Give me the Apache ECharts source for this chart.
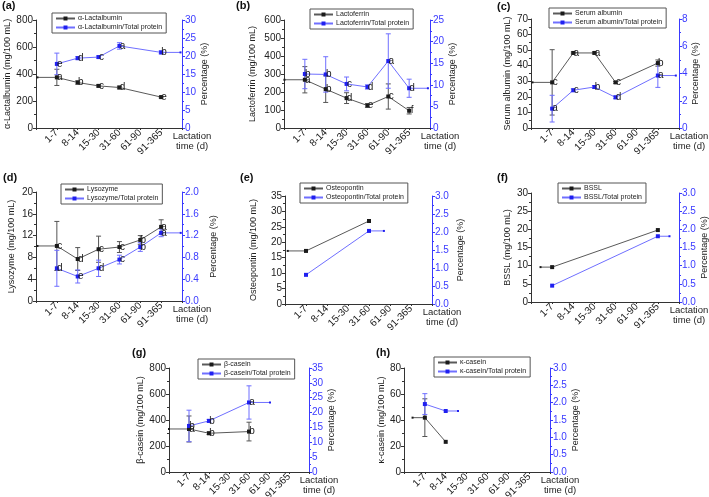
<!DOCTYPE html>
<html><head><meta charset="utf-8">
<script src="https://cdn.jsdelivr.net/npm/echarts@6/dist/echarts.min.js"></script>
<style>html,body{margin:0;padding:0;background:#fff}#c{width:709px;height:497px}</style>
</head><body><div id="c"></div>
<script>
const categories = ["1-7","8-14","15-30","31-60","61-90","91-365"];

// (a) alpha-lactalbumin
const aConc = [375, 337, 312, 300, null, 229];
const aConcErr = [60, 12, 8, 10, null, 6];
const aPct = [17.8, 19.4, 19.7, 22.8, null, 21.0];
const aPctErr = [3.0, 0.4, 0.3, 0.9, null, 0.4];
const aConcLetters = ["a","b","c","d",null,"e"];
const aPctLetters = ["e","d","c","a",null,"b"];
const aConcTicks = [0, 800, 200];
const aPctTicks = [0, 30, 5];
const aExt = [0.93, 0.93];

// (b) lactoferrin
const bConc = [268, 216, 166, 125, 175, 96];
const bConcErr = [73, 74, 30, 10, 70, 18];
const bPct = [12.5, 12.4, 10.2, 9.5, 15.5, 9.2];
const bPctErr = [3.4, 4.1, 1.6, 0.5, 6.3, 2.1];
const bConcLetters = ["a","b","d","e","c","f"];
const bPctLetters = ["b","b","c","d","a","d"];
const bConcTicks = [0, 600, 100];
const bPctTicks = [0, 25, 5];
const bExt = [0.98, 0.9];

// (c) serum albumin
const cConc = [29.3, 48.2, 48.2, 29.3, null, 41.7];
const cConcErr = [21, 0.6, 0.6, 0.6, null, 2];
const cPct = [1.42, 2.77, 3.01, 2.25, null, 3.85];
const cPctErr = [0.98, 0.1, 0.1, 0.1, null, 0.87];
const cConcLetters = ["c","a","a","c",null,"b"];
const cPctLetters = ["a","c","b","d",null,"a"];
const cConcTicks = [0, 70, 10];
const cPctTicks = [0, 8, 2];
const cExt = [0.93, 0.85];

// (d) lysozyme
const dConc = [10.1, 7.7, 9.5, 9.9, 11.2, 13.6];
const dConcErr = [4.5, 2.1, 2.4, 1.0, 0.8, 1.3];
const dPct = [0.6, 0.45, 0.6, 0.76, 0.99, 1.25];
const dPctErr = [0.33, 0.12, 0.15, 0.08, 0.08, 0.07];
const dConcLetters = ["c","d","c","c","b","a"];
const dPctLetters = ["d","e","d","c","b","a"];
const dConcTicks = [0, 20, 4];
const dPctTicks = [0, 2, 0.4];
const dExt = [0.93, 0.94];

// (e) osteopontin
const eConc = [17.2, null, null, 26.9, null, null];
const ePct = [0.81, null, null, 2.03, null, null];
const eConcTicks = [0, 35, 5];
const ePctTicks = [0, 3, 0.5];
const eExt = [0.87, 0.71];

// (f) BSSL
const fConc = [9.6, null, null, null, null, 19.8];
const fPct = [0.45, null, null, null, null, 1.81];
const fConcTicks = [0, 30, 5];
const fPctTicks = [0, 3, 0.5];
const fExt = [0.55, 0.55];

// (g) beta-casein
const gConc = [331, 298, null, 311, null, null];
const gConcErr = [100, 10, null, 72, null, null];
const gPct = [15.5, 17.2, null, 23.4, null, null];
const gPctErr = [5.3, 0.5, null, 5.6, null, null];
const gConcLetters = ["a","b",null,"b",null,null];
const gPctLetters = ["b","b",null,"a",null,null];
const gConcTicks = [0, 800, 200];
const gPctTicks = [0, 35, 5];
const gExt = [1.0, 1.05];

// (h) kappa-casein
const hConc = [41.8, 23.2, null, null, null, null];
const hConcErr = [14.5, 0, null, null, null, null];
const hPct = [1.96, 1.76, null, null, null, null];
const hPctErr = [0.3, 0, null, null, null, null];
const hConcTicks = [0, 80, 20];
const hPctTicks = [0, 3, 0.5];
const hExt = [0.59, 0.59];

const FONT = "'Liberation Sans', Arial, sans-serif";
const BLACK_LINE = '#5a5a5a', BLACK_MK = '#1a1a1a';
const BLUE_LINE = '#6f6fff', BLUE_MK = '#2020f0', BLUE_AX = '#3a3aff';

const panels = [
  {tag:'(a)', tagPos:[2,0], conc:aConc, concErr:aConcErr, pct:aPct, pctErr:aPctErr, cl:aConcLetters, pl:aPctLetters,
   names:['α-Lactalbumin','α-Lactalbumin/Total protein'], yName:'α-Lactalbumin (mg/100 mL)', ct:aConcTicks, pt:aPctTicks, pDec:0, ext:aExt,
   grid:{left:36, top:20, width:146, height:108}, leg:[52,13], lgap:21, rgap:13},
  {tag:'(b)', tagPos:[236,0], conc:bConc, concErr:bConcErr, pct:bPct, pctErr:bPctErr, cl:bConcLetters, pl:bPctLetters,
   names:['Lactoferrin','Lactoferrin/Total protein'], yName:'Lactoferrin (mg/100 mL)', ct:bConcTicks, pt:bPctTicks, pDec:0, ext:bExt,
   grid:{left:284, top:20, width:146, height:108}, leg:[310,9], lgap:27, rgap:14},
  {tag:'(c)', tagPos:[497,1], conc:cConc, concErr:cConcErr, pct:cPct, pctErr:cPctErr, cl:cConcLetters, pl:cPctLetters,
   names:['Serum albumin','Serum albumin/Total protein'], yName:'Serum albumin (mg/100 mL)', ct:cConcTicks, pt:cPctTicks, pDec:0, ext:cExt,
   grid:{left:531, top:19, width:148, height:109}, leg:[549,8], lgap:19, rgap:11},
  {tag:'(d)', tagPos:[3,172], conc:dConc, concErr:dConcErr, pct:dPct, pctErr:dPctErr, cl:dConcLetters, pl:dPctLetters,
   names:['Lysozyme','Lysozyme/Total protein'], yName:'Lysozyme (mg/100 mL)', ct:dConcTicks, pt:dPctTicks, pDec:1, ext:dExt,
   grid:{left:36, top:192, width:146, height:109}, leg:[61,184], lgap:20, rgap:27},
  {tag:'(e)', tagPos:[240,172], conc:eConc, concErr:null, pct:ePct, pctErr:null, cl:null, pl:null,
   names:['Osteopontin','Osteopontin/Total protein'], yName:'Osteopontin (mg/100 mL)', ct:eConcTicks, pt:ePctTicks, pDec:1, ext:eExt,
   grid:{left:285, top:196, width:147, height:108}, leg:[300,183], lgap:27, rgap:24},
  {tag:'(f)', tagPos:[497,172], conc:fConc, concErr:null, pct:fPct, pctErr:null, cl:null, pl:null,
   names:['BSSL','BSSL/Total protein'], yName:'BSSL (mg/100 mL)', ct:fConcTicks, pt:fPctTicks, pDec:1, ext:fExt,
   grid:{left:531, top:193, width:148, height:109}, leg:[558,183], lgap:19, rgap:19},
  {tag:'(g)', tagPos:[132,347], conc:gConc, concErr:gConcErr, pct:gPct, pctErr:gPctErr, cl:gConcLetters, pl:gPctLetters,
   names:['β-casein','β-casein/Total protein'], yName:'β-casein (mg/100 mL)', ct:gConcTicks, pt:gPctTicks, pDec:0, ext:gExt,
   grid:{left:169, top:368, width:140, height:104}, leg:[198,359], lgap:21, rgap:15},
  {tag:'(h)', tagPos:[376,347], conc:hConc, concErr:hConcErr, pct:hPct, pctErr:hPctErr, cl:null, pl:null,
   names:['κ-casein','κ-casein/Total protein'], yName:'κ-casein (mg/100 mL)', ct:hConcTicks, pt:hPctTicks, pDec:1, ext:hExt,
   grid:{left:404, top:368, width:146, height:104}, leg:[434,357], lgap:18, rgap:16}
];

function errRender(params, api) {
  const x = api.value(0), y = api.value(1), e = api.value(2);
  const t = api.coord([x, y + e]), b = api.coord([x, y - e]);
  const w = 2.5;
  const style = {stroke: api.visual('color'), lineWidth: 1};
  return {type: 'group', children: [
    {type: 'line', shape: {x1: t[0], y1: t[1], x2: b[0], y2: b[1]}, style},
    {type: 'line', shape: {x1: t[0] - w, y1: t[1], x2: t[0] + w, y2: t[1]}, style},
    {type: 'line', shape: {x1: b[0] - w, y1: b[1], x2: b[0] + w, y2: b[1]}, style}
  ]};
}

const grids = [], xAxes = [], yAxes = [], series = [], legends = [], graphics = [];

panels.forEach((p, i) => {
  grids.push(Object.assign({outerBoundsMode: 'none', containLabel: false}, p.grid));
  xAxes.push({
    type: 'value', gridIndex: i, min: 0, max: 7, interval: 1,
    axisLine: {show: true, lineStyle: {color: '#333', width: 1}},
    axisTick: {show: true, length: 2, lineStyle: {color: '#333'}},
    splitLine: {show: false},
    axisLabel: {rotate: 45, fontSize: 10, fontFamily: FONT, color: '#222', margin: 3,
      formatter: v => categories[Math.round(v) - 1] || ''}
  });
  yAxes.push({
    type: 'value', gridIndex: i, position: 'left', min: p.ct[0], max: p.ct[1], interval: p.ct[2],
    name: p.yName, nameLocation: 'middle', nameRotate: 90, nameGap: p.lgap,
    nameTextStyle: {fontSize: 9, fontFamily: FONT, color: '#222'},
    axisLine: {show: true, lineStyle: {color: '#333'}},
    axisTick: {show: true, length: 3, lineStyle: {color: '#333'}},
    minorTick: {show: true, splitNumber: 2, length: 2, lineStyle: {color: '#333'}},
    splitLine: {show: false},
    axisLabel: {fontSize: 10, fontFamily: FONT, color: '#222', margin: 3}
  });
  yAxes.push({
    type: 'value', gridIndex: i, position: 'right', min: p.pt[0], max: p.pt[1], interval: p.pt[2],
    name: 'Percentage (%)', nameLocation: 'middle', nameRotate: 90, nameGap: p.rgap,
    nameTextStyle: {fontSize: 9, fontFamily: FONT, color: '#222'},
    axisLine: {show: true, lineStyle: {color: BLUE_AX}},
    axisTick: {show: true, length: 3, lineStyle: {color: BLUE_AX}},
    minorTick: {show: true, splitNumber: 2, length: 2, lineStyle: {color: BLUE_AX}},
    splitLine: {show: false},
    axisLabel: {fontSize: 10, fontFamily: FONT, color: BLUE_AX, margin: 3,
      formatter: v => p.pDec ? v.toFixed(p.pDec) : String(Math.round(v))}
  });

  const concData = [], pctData = [];
  p.conc.forEach((v, k) => {
    if (v == null) return;
    if (!concData.length) concData.push({value: [k + 1 - p.ext[0], v], symbolSize: 2, letter: ''});
    concData.push({value: [k + 1, v], letter: p.cl ? (p.cl[k] || '') : ''});
  });
  let lastK = -1;
  p.pct.forEach((v, k) => {
    if (v == null) return;
    pctData.push({value: [k + 1, v], letter: p.pl ? (p.pl[k] || '') : ''});
    lastK = k;
  });
  pctData.push({value: [lastK + 1 + p.ext[1], p.pct[lastK]], symbolSize: 2, letter: ''});

  const lbl = {show: true, position: 'inside', offset: [3, 0], fontSize: 10, fontFamily: FONT, color: '#222',
    formatter: pr => pr.data.letter || ''};

  series.push({
    name: p.names[0], type: 'line', xAxisIndex: i, yAxisIndex: 2 * i, data: concData,
    symbol: 'rect', symbolSize: 4, itemStyle: {color: BLACK_MK}, lineStyle: {color: BLACK_LINE, width: 1},
    label: lbl, z: 4, animation: false
  });
  series.push({
    name: p.names[1], type: 'line', xAxisIndex: i, yAxisIndex: 2 * i + 1, data: pctData,
    symbol: 'rect', symbolSize: 4, itemStyle: {color: BLUE_MK}, lineStyle: {color: BLUE_LINE, width: 1},
    label: lbl, z: 4, animation: false
  });
  if (p.concErr) {
    const ed = [];
    p.conc.forEach((v, k) => { if (v != null && p.concErr[k]) ed.push([k + 1, v, p.concErr[k]]); });
    series.push({type: 'custom', xAxisIndex: i, yAxisIndex: 2 * i, data: ed, renderItem: errRender,
      itemStyle: {color: '#555'}, z: 3, silent: true, animation: false, clip: false});
  }
  if (p.pctErr) {
    const ed = [];
    p.pct.forEach((v, k) => { if (v != null && p.pctErr[k]) ed.push([k + 1, v, p.pctErr[k]]); });
    series.push({type: 'custom', xAxisIndex: i, yAxisIndex: 2 * i + 1, data: ed, renderItem: errRender,
      itemStyle: {color: BLUE_LINE}, z: 3, silent: true, animation: false, clip: false});
  }

  legends.push({
    left: p.leg[0], top: p.leg[1], orient: 'vertical', data: p.names,
    borderColor: '#555', borderWidth: 1, backgroundColor: '#fff', padding: [2, 4, 2, 3], itemGap: 2,
    itemWidth: 19, itemHeight: 5, selectedMode: false,
    textStyle: {fontSize: 7, fontFamily: FONT, color: '#222', padding: [0, 0, 0, -2]}
  });

  graphics.push({type: 'text', left: p.tagPos[0], top: p.tagPos[1],
    style: {text: p.tag, font: 'bold 11px ' + FONT, fill: '#111'}});
  const gr = p.grid.left + p.grid.width, gb = p.grid.top + p.grid.height;
  graphics.push({type: 'text', x: gr + 10, y: gb + 3,
    style: {text: 'Lactation\ntime (d)', font: '9.5px ' + FONT, fill: '#222',
      align: 'center', textAlign: 'center', verticalAlign: 'top', textVerticalAlign: 'top', lineHeight: 10}});
});

const chart = echarts.init(document.getElementById('c'), null, {renderer: 'canvas'});
chart.setOption({
  backgroundColor: '#fff',
  animation: false,
  grid: grids, xAxis: xAxes, yAxis: yAxes, series: series, legend: legends,
  graphic: {elements: graphics}
});
</script>
</body></html>
